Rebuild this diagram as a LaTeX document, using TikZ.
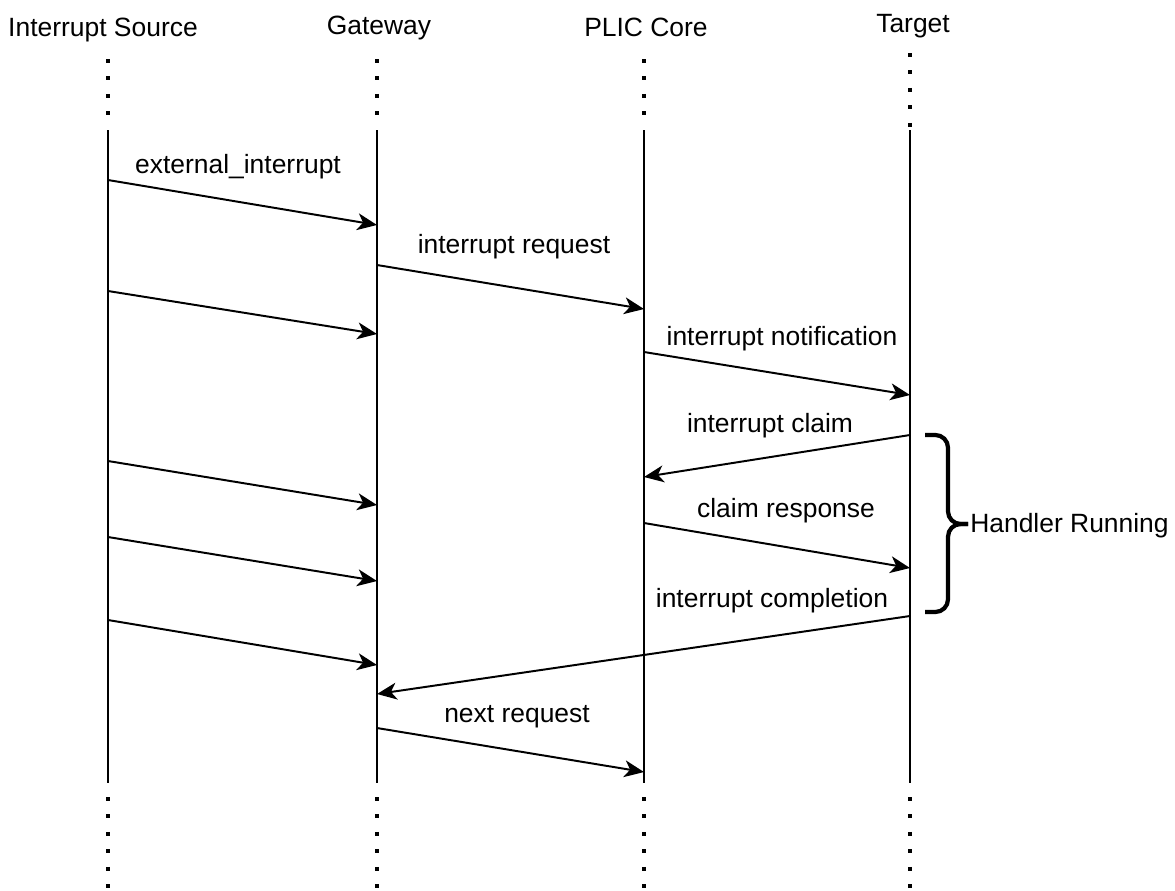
\documentclass[tikz,border=0pt]{standalone}
\usepackage{fontspec, tkz-euclide}
\setmainfont{Liberation Sans}
\usetikzlibrary{arrows.meta}
\tikzset{>={Stealth[length=14pt, width=12pt, inset=4pt]}}
\tikzset{
    lifeline/.style={line width=1.4pt},
    lifedots/.style={line width=2.8pt, dash pattern=on 2.8pt off 9.6pt},
    msg/.style={->, line width=1.4pt},
    lbl/.style={anchor=base, inner sep=0pt, font=\fontsize{18.8}{22}\selectfont},
    bracket/.style={line width=3pt, rounded corners=9pt},
}

\begin{document}
\begin{tikzpicture}[x=0.025cm, y=-0.025cm]
    \useasboundingbox (0,0) rectangle (1175,890);
    \tkzDefPoints{108/130/S, 377/130/G, 644/130/P, 910/130/T}
    \tkzDefPoints{108/783/s, 377/783/g, 644/783/p, 910/783/t}
    \node[lbl] (src) at (103,36) {Interrupt Source};
    \node[lbl] (gw) at (379,34) {Gateway};
    \node[lbl] (core) at (646,36) {PLIC Core};
    \node[lbl] (tgt) at (913,32) {Target};
    \foreach \a/\b in {S/s, G/g, P/p} {
        \draw[lifeline] (\a) -- (\b);
        \draw[lifedots] (\a) ++(0,-71) -- ++(0,57);
        \draw[lifedots] (\b) ++(0,14) -- ++(0,93);
    }
    \draw[lifeline] (T) -- (t);
    \draw[lifedots] (T) ++(0,-77) -- ++(0,77);
    \draw[lifedots] (t) ++(0,14) -- ++(0,93);
    % messages
    \tkzDefPoints{108/180/A1, 377/225/A2, 377/265/B1, 644/309/B2,
        108/291/C1, 377/334/C2, 644/352/D1, 910/395/D2,
        910/435/E1, 644/477/E2, 108/461/F1, 377/505/F2,
        644/523/H1, 910/568/H2, 108/537/K1, 377/581/K2,
        910/616/L1, 377/694/L2, 108/620/M1, 377/665/M2,
        377/728/N1, 644/772/N2}
    \foreach \u in {A, B, C, D, E, F, H, K, L, M, N}
        \draw[msg] (\u1) -- (\u2);
    \node[lbl] (lext) at (238,173) {external\_interrupt};
    \node[lbl] (lreq) at (514,253) {interrupt request};
    \node[lbl] (lnot) at (782,345) {interrupt notification};
    \node[lbl] (lclm) at (770,432) {interrupt claim};
    \node[lbl] (lrsp) at (786,517) {claim response};
    \node[lbl] (lcmp) at (772,607) {interrupt completion};
    \node[lbl] (lnxt) at (517,722) {next request};
    % handler brace
    \tkzDefPoints{925/435/R1, 925/612/R2, 968/524/Rt}
    \draw[bracket] (R1) -- ++(23,0) |- (Rt);
    \draw[bracket] (R2) -- ++(23,0) |- (Rt);
    \node[lbl, anchor=base west] (hr) at (970,532) {Handler Running};
\end{tikzpicture}
\end{document}
